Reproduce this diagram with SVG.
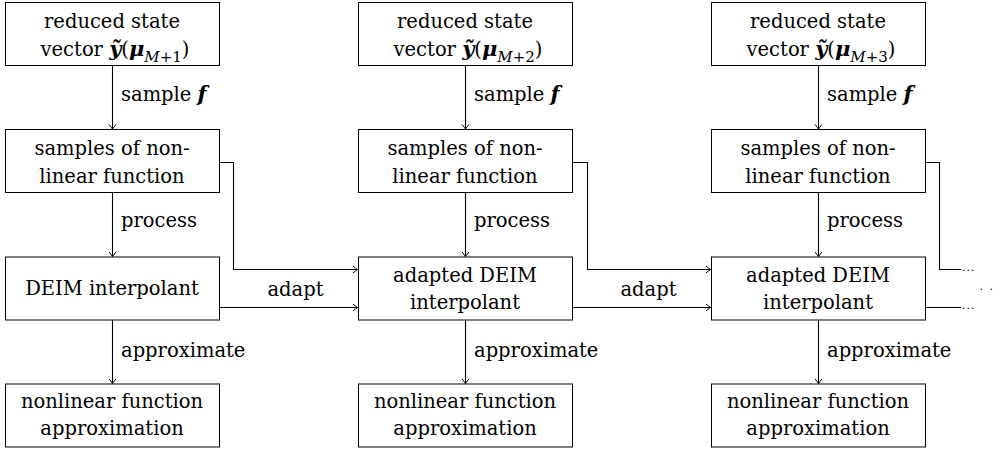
<svg xmlns="http://www.w3.org/2000/svg" width="999" height="450" viewBox="0 0 999 450">
<defs>
<style>
text{font-family:"DejaVu Serif","Liberation Serif",serif;font-size:19.5px;fill:#000}
.box{fill:#fff;stroke:#000;stroke-width:1}
.c{text-anchor:middle}
.bi{font-weight:bold;font-style:italic}
.m{font-size:21px}
.it{font-style:italic}
.sub{font-size:15px}
.edge{fill:none;stroke:#000;stroke-width:1.1}
.dots{font-size:11px}
</style>
<marker id="ah" markerWidth="10" markerHeight="10" refX="0" refY="0" viewBox="-6 -5 8 10" orient="auto" markerUnits="userSpaceOnUse">
<path d="M-4.5,-3.4 Q-1.2,-0.8 0,0 Q-1.2,0.8 -4.5,3.4" fill="none" stroke="#000" stroke-width="1"/>
</marker>
</defs>

<g id="connectors">
<g id="vertical">
<path class="edge" d="M112.5,65.5 V129" marker-end="url(#ah)"/>
<path class="edge" d="M112.5,192.5 V256.5" marker-end="url(#ah)"/>
<path class="edge" d="M112.5,320 V383.5" marker-end="url(#ah)"/>
<path class="edge" d="M465.5,65.5 V129" marker-end="url(#ah)"/>
<path class="edge" d="M465.5,192.5 V256.5" marker-end="url(#ah)"/>
<path class="edge" d="M465.5,320 V383.5" marker-end="url(#ah)"/>
<path class="edge" d="M818.5,65.5 V129" marker-end="url(#ah)"/>
<path class="edge" d="M818.5,192.5 V256.5" marker-end="url(#ah)"/>
<path class="edge" d="M818.5,320 V383.5" marker-end="url(#ah)"/>
</g>
<g id="adapt">
<path class="edge" d="M219.5,162.5 H233.5 V269.5 H357.5" marker-end="url(#ah)"/>
<path class="edge" d="M219.5,307.5 H357.5" marker-end="url(#ah)"/>
<path class="edge" d="M572.5,162.5 H587.5 V269.5 H710.5" marker-end="url(#ah)"/>
<path class="edge" d="M572.5,307.5 H710.5" marker-end="url(#ah)"/>
<path class="edge" d="M925.5,162.5 H939.5 V269.5 H961"/>
<path class="edge" d="M925.5,307.5 H961"/>
</g>
<g id="edge-labels">
<text x="121" y="101">sample <tspan class="bi m">f</tspan></text>
<text x="474" y="101">sample <tspan class="bi m">f</tspan></text>
<text x="827" y="101">sample <tspan class="bi m">f</tspan></text>
<text x="121" y="227">process</text>
<text x="474" y="227">process</text>
<text x="827" y="227">process</text>
<text x="121" y="357">approximate</text>
<text x="474" y="357">approximate</text>
<text x="827" y="357">approximate</text>
<text class="c" x="295.5" y="296">adapt</text>
<text class="c" x="648.5" y="296">adapt</text>
<text class="dots" x="962" y="270.5" letter-spacing="1">...</text>
<text class="dots" x="962" y="308.5" letter-spacing="1">...</text>
<text class="dots" x="979.5" y="289.5" letter-spacing="6.5">..</text>
</g>
</g>

<g id="n1a"><rect class="box" x="5.5" y="2.5" width="214" height="63"/>
<text class="c" x="112" y="28">reduced state</text>
<text class="c" x="115" y="56">vector <tspan class="bi m">ỹ</tspan>(<tspan class="bi m">μ</tspan><tspan class="sub" dy="6"><tspan class="it">M</tspan>+1</tspan><tspan dy="-6">)</tspan></text></g>
<g id="n2a"><rect class="box" x="358.5" y="2.5" width="214" height="63"/>
<text class="c" x="465" y="28">reduced state</text>
<text class="c" x="468" y="56">vector <tspan class="bi m">ỹ</tspan>(<tspan class="bi m">μ</tspan><tspan class="sub" dy="6"><tspan class="it">M</tspan>+2</tspan><tspan dy="-6">)</tspan></text></g>
<g id="n3a"><rect class="box" x="711.5" y="2.5" width="214" height="63"/>
<text class="c" x="818" y="28">reduced state</text>
<text class="c" x="821" y="56">vector <tspan class="bi m">ỹ</tspan>(<tspan class="bi m">μ</tspan><tspan class="sub" dy="6"><tspan class="it">M</tspan>+3</tspan><tspan dy="-6">)</tspan></text></g>

<g id="n1b"><rect class="box" x="5.5" y="129.5" width="214" height="63"/>
<text class="c" x="112" y="155">samples of non-</text>
<text class="c" x="112" y="183">linear function</text></g>
<g id="n2b"><rect class="box" x="358.5" y="129.5" width="214" height="63"/>
<text class="c" x="465" y="155">samples of non-</text>
<text class="c" x="465" y="183">linear function</text></g>
<g id="n3b"><rect class="box" x="711.5" y="129.5" width="214" height="63"/>
<text class="c" x="818" y="155">samples of non-</text>
<text class="c" x="818" y="183">linear function</text></g>

<g id="n1c"><rect class="box" x="5.5" y="257" width="214" height="63"/>
<text class="c" x="112" y="295">DEIM interpolant</text></g>
<g id="n2c"><rect class="box" x="358.5" y="257" width="214" height="63"/>
<text class="c" x="465" y="282">adapted DEIM</text>
<text class="c" x="465" y="309">interpolant</text></g>
<g id="n3c"><rect class="box" x="711.5" y="257" width="214" height="63"/>
<text class="c" x="818" y="282">adapted DEIM</text>
<text class="c" x="818" y="309">interpolant</text></g>

<g id="n1d"><rect class="box" x="5.5" y="384" width="214" height="63"/>
<text class="c" x="112" y="408">nonlinear function</text>
<text class="c" x="112" y="435">approximation</text></g>
<g id="n2d"><rect class="box" x="358.5" y="384" width="214" height="63"/>
<text class="c" x="465" y="408">nonlinear function</text>
<text class="c" x="465" y="435">approximation</text></g>
<g id="n3d"><rect class="box" x="711.5" y="384" width="214" height="63"/>
<text class="c" x="818" y="408">nonlinear function</text>
<text class="c" x="818" y="435">approximation</text></g>
</svg>
